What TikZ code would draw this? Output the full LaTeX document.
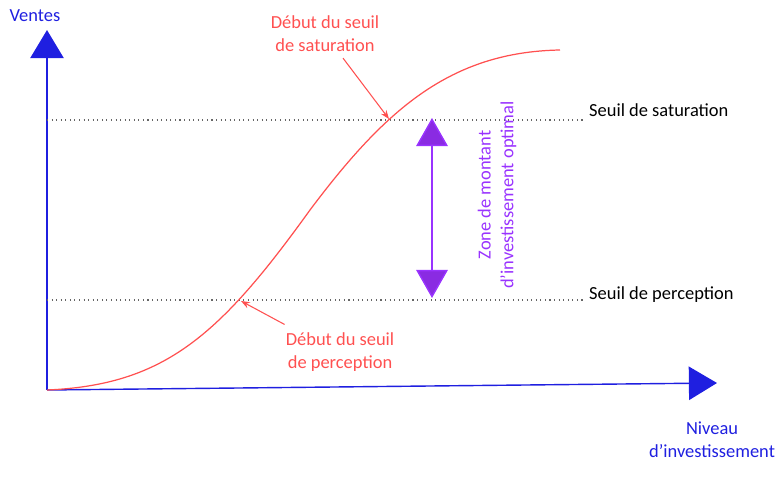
\documentclass[tikz,border=0pt]{standalone}
\usepackage{fontspec}
\setmainfont{Carlito}
\usetikzlibrary{arrows.meta, positioning}
\definecolor{axeblue}{HTML}{1F1FE0}
\definecolor{curvered}{HTML}{FF5050}
\definecolor{zonepurple}{HTML}{9933FF}
\definecolor{zonefill}{HTML}{8A2BE2}
\begin{document}
\begin{tikzpicture}[
    x=0.02cm, y=-0.02cm,
    every node/.style={font=\fontsize{10.5}{13}\selectfont},
    axis/.style={
        line width=0.8pt,
        draw=axeblue,
        -{Triangle[length=16pt, width=19pt, fill=axeblue]}
    },
    threshold/.style={
        dotted,
        line width=0.6pt,
        black!60
    },
    pointer/.style={
        -{Stealth[length=5pt]},
        line width=0.6pt,
        curvered
    },
    zone/.style={
        line width=0.8pt,
        draw=zonepurple,
        {Triangle[length=16pt, width=18pt, fill=zonefill]}-{Triangle[length=16pt, width=18pt, fill=zonefill]}
    },
    redlabel/.style={
        align=center,
        text=curvered
    }
]
\useasboundingbox (0,0) rectangle (782,480);

% Axes
\coordinate (origin) at (47,390);
\coordinate (ytop) at (47,30);
\coordinate (xend) at (717,383);
\draw[axis] (origin) -- (ytop);
\draw[axis] (origin) -- (xend);
\node[text=axeblue] (ventes) at (35,16) {Ventes};
\node[text=axeblue, align=center] (niveau) at (712,440) {Niveau\\d’investissement};

% Thresholds
\coordinate (satL) at (47,120);
\coordinate (satR) at (585,120);
\coordinate (perL) at (47,300);
\coordinate (perR) at (585,300);
\draw[threshold] (satL) -- (satR);
\draw[threshold] (perL) -- (perR);
\node[anchor=west] (seuilsat) at (583,110) {Seuil de saturation};
\node[anchor=west] (seuilper) at (583,295) {Seuil de perception};

% S-curve
\draw[curvered, line width=0.7pt] (origin) .. controls (165,385) and (220,335) .. (310,210)
    .. controls (385,110) and (450,52) .. (560,50);

% Optimal zone
\coordinate (zonetop) at (432,118);
\coordinate (zonebot) at (432,298);
\draw[zone] (zonetop) -- (zonebot);
\node[rotate=90, text=zonepurple, align=center] (zonetext) at (497,195)
    {Zone de montant\\d’investissement optimal};

% Curve labels
\node[redlabel] (debsat) at (325,34) {Début du seuil\\de saturation};
\node[redlabel] (debper) at (340,352) {Début du seuil\\de perception};
\coordinate (ptsat) at (389,119);
\coordinate (ptper) at (241,301);
\draw[pointer] (debsat.south) ++(18,0) -- (ptsat);
\draw[pointer] (debper.north west) ++(5,-2) -- (ptper);

\end{tikzpicture}
\end{document}
